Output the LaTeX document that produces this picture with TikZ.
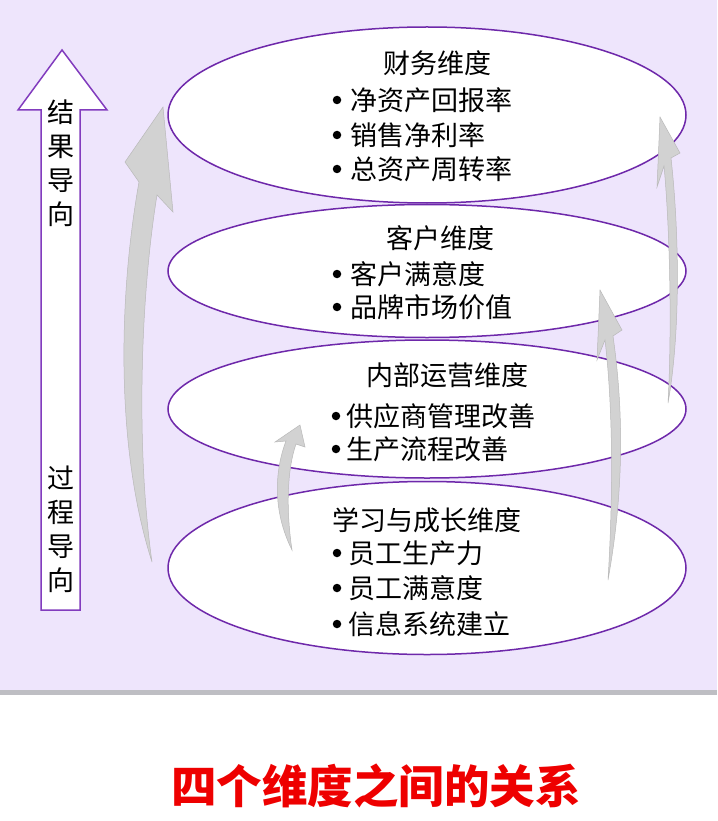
\documentclass[tikz,border=0pt]{standalone}
\usepackage{fontspec}
\newfontfamily\cjk{Noto Sans CJK SC}
\usetikzlibrary{shapes.geometric}
\definecolor{bglav}{RGB}{238,229,252}
\definecolor{ellpur}{RGB}{110,40,170}
\definecolor{arrpur}{RGB}{130,60,190}
\definecolor{arrgray}{RGB}{210,210,210}
\definecolor{arrdark}{RGB}{185,185,185}
\definecolor{titlered}{RGB}{238,0,0}
\definecolor{bandgray}{RGB}{190,190,195}
\tikzset{
  dimell/.style={ellipse, draw=ellpur, line width=1.5pt, fill=white, inner sep=0pt},
  headtxt/.style={font=\cjk\fontsize{27}{30}\selectfont, inner sep=0pt},
  itemtxt/.style={font=\cjk\fontsize{27}{30}\selectfont, inner sep=0pt, anchor=west},
  bul/.style={circle, fill=black, inner sep=0pt, minimum size=8.5pt},
  vtxt/.style={font=\cjk\fontsize{27}{34}\selectfont, align=center, inner sep=0pt},
  grayarrow/.style={fill=arrgray, draw=arrdark, line width=0.5pt}
}
\begin{document}
\begin{tikzpicture}[x=1pt, y=-1pt]
\useasboundingbox (0,0) rectangle (717,821);
\fill[white] (0,0) rectangle (717,821);
\fill[bglav] (0,0) rectangle (717,690);
\fill[bandgray] (0,690) rectangle (717,695);

% left vertical arrow
\draw[arrpur, line width=1.5pt, fill=white] (41,610) -- (41,110) -- (18,110) -- (62,50) -- (107,110) -- (80,110) -- (80,610) -- cycle;
\node[vtxt] (res) at (61,163) {结\\果\\导\\向};
\node[vtxt] (proc) at (61,529) {过\\程\\导\\向};

% ellipses
\node[dimell, minimum width=518pt, minimum height=176pt] (e1) at (427,115) {};
\node[dimell, minimum width=518pt, minimum height=133pt] (e2) at (427,271) {};
\node[dimell, minimum width=518pt, minimum height=138pt] (e3) at (427,409) {};
\node[dimell, minimum width=518pt, minimum height=173pt] (e4) at (427,568) {};

% grey curved arrows
\path[grayarrow] (152,562) .. controls (116,450) and (118,300) .. (139,182) -- (125,162) -- (163,107) -- (173,212) -- (157,195) .. controls (140,300) and (136,450) .. (152,562) -- cycle;
\path[grayarrow] (292,550) .. controls (272,510) and (275,470) .. (286,441) -- (275,442) -- (300,425) -- (305,447) -- (296,444) .. controls (287,470) and (286,510) .. (292,550) -- cycle;
\path[grayarrow] (608,580) .. controls (626,480) and (622,400) .. (613,336) -- (622,330) -- (600,290) -- (597,360) -- (605,340) .. controls (612,400) and (614,480) .. (608,580) -- cycle;
\path[grayarrow] (668,403) .. controls (681,330) and (679,230) .. (671,158) -- (680,153) -- (660,117) -- (657,187) -- (664,166) .. controls (670,230) and (672,330) .. (668,403) -- cycle;

% ellipse 1 text
\node[headtxt] (h1) at (437,63) {财务维度};
\node[bul] (b11) at (337,100) {};
\node[itemtxt] (i11) at (350,100) {净资产回报率};
\node[bul] (b12) at (337,135) {};
\node[itemtxt] (i12) at (350,135) {销售净利率};
\node[bul] (b13) at (337,169) {};
\node[itemtxt] (i13) at (350,169) {总资产周转率};

% ellipse 2 text
\node[headtxt] (h2) at (440,238) {客户维度};
\node[bul] (b21) at (337,274) {};
\node[itemtxt] (i21) at (350,274) {客户满意度};
\node[bul] (b22) at (337,307) {};
\node[itemtxt] (i22) at (350,307) {品牌市场价值};

% ellipse 3 text
\node[headtxt] (h3) at (447,375) {内部运营维度};
\node[bul] (b31) at (336,416) {};
\node[itemtxt] (i31) at (346,416) {供应商管理改善};
\node[bul] (b32) at (336,449) {};
\node[itemtxt] (i32) at (346,449) {生产流程改善};

% ellipse 4 text
\node[headtxt] (h4) at (427,520) {学习与成长维度};
\node[bul] (b41) at (337,553) {};
\node[itemtxt] (i41) at (348,553) {员工生产力};
\node[bul] (b42) at (337,588) {};
\node[itemtxt] (i42) at (348,588) {员工满意度};
\node[bul] (b43) at (337,624) {};
\node[itemtxt] (i43) at (348,624) {信息系统建立};

% caption
\node[font=\cjk\bfseries\fontsize{45.5}{48}\selectfont, text=titlered, inner sep=0pt] (cap) at (376,786) {四个维度之间的关系};
\end{tikzpicture}
\end{document}
